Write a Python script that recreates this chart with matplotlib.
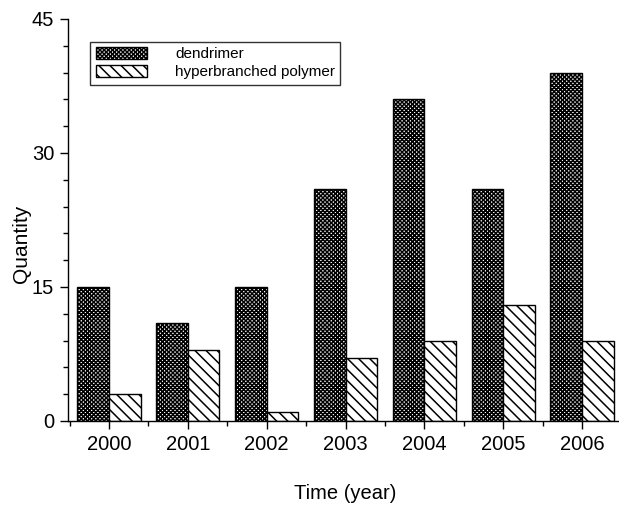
import numpy as np
import matplotlib.pyplot as plt
from matplotlib.ticker import MultipleLocator

years = ["2000", "2001", "2002", "2003", "2004", "2005", "2006"]
dendrimer = [15, 11, 15, 26, 36, 26, 39]
hyperbranched = [3, 8, 1, 7, 9, 13, 9]

plt.rcParams["font.family"] = ["Liberation Sans", "DejaVu Sans"]
plt.rcParams["hatch.linewidth"] = 1.1

fig = plt.figure(figsize=(6.19, 5.09), dpi=100)
ax = fig.add_axes([68 / 619, 88 / 509, 555 / 619, 402 / 509])

x = np.arange(len(years))
w = 0.4
ax.bar(x - w / 2, dendrimer, w, facecolor="white", edgecolor="black",
       linewidth=1.0, hatch="xxxxxxxx", label="dendrimer")
ax.bar(x + w / 2, hyperbranched, w, facecolor="white", edgecolor="black",
       linewidth=1.0, hatch="\\\\\\", label="hyperbranched polymer")

ax.set_xlim(-0.52, 6.52)
ax.set_ylim(0, 45)
ax.set_xticks(x)
ax.set_xticklabels(years)
ax.xaxis.set_minor_locator(MultipleLocator(1, offset=0.5))
ax.yaxis.set_major_locator(MultipleLocator(15))
ax.yaxis.set_minor_locator(MultipleLocator(3))

for s in ["top", "right"]:
    ax.spines[s].set_visible(False)
for s in ["left", "bottom"]:
    ax.spines[s].set_linewidth(1.0)

ax.tick_params(which="major", direction="out", length=6, width=1.0,
               labelsize=14.5, pad=4)
ax.tick_params(which="minor", direction="out", length=3.5, width=1.0)

ax.set_ylabel("Quantity", fontsize=15)
ax.yaxis.set_label_coords(-0.066, 0.44)
ax.set_xlabel("Time (year)", fontsize=14.5, labelpad=22)

leg = ax.legend(loc="upper left", bbox_to_anchor=(0.04, 0.943),
                fontsize=11, frameon=True, fancybox=False, borderaxespad=0,
                handlelength=3.4, handleheight=0.8, handletextpad=1.8,
                labelspacing=0.25, borderpad=0.35)
leg.get_frame().set_edgecolor("black")
leg.get_frame().set_linewidth(1.0)

fig.savefig("out.png", dpi=100)
